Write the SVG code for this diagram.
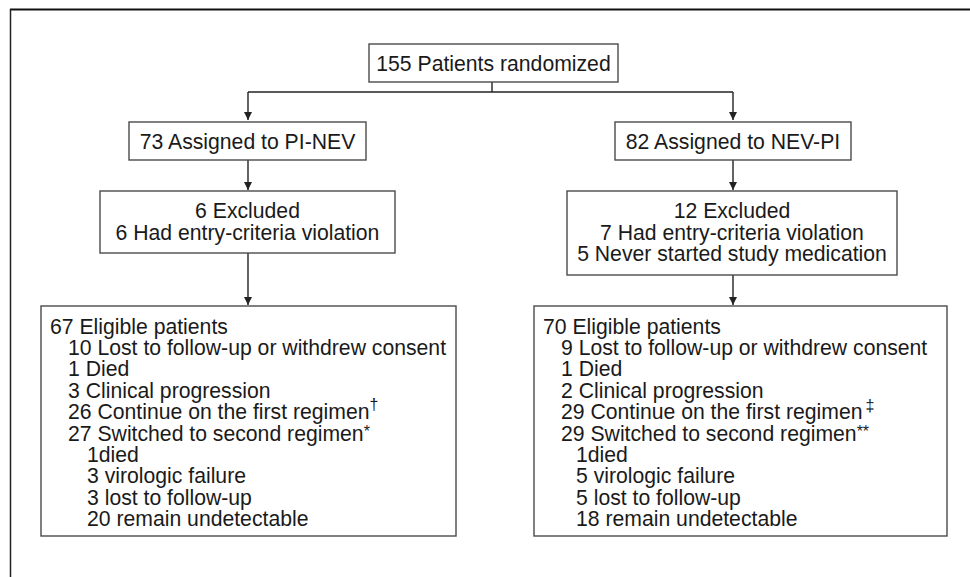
<svg xmlns="http://www.w3.org/2000/svg" width="970" height="577" viewBox="0 0 970 577">
<style>
.box{fill:#fff;stroke:#4a4a4a;stroke-width:1.4}
.t{font-family:"Liberation Sans",Arial,sans-serif;font-size:21.2px;fill:#1a1a1a}
.c{text-anchor:middle}
.ln{stroke:#222;stroke-width:1.4;fill:none}
.sup{font-size:16px;fill:#1a1a1a}
</style>
<defs>
<marker id="ah" viewBox="0 0 10 10" refX="10" refY="5" markerWidth="8" markerHeight="8" markerUnits="userSpaceOnUse" orient="auto">
<path d="M0,0 L10,5 L0,10 Z" fill="#222"/>
</marker>
</defs>
<rect width="970" height="577" fill="#fff"/>
<g id="frame">
<line x1="10" y1="9.5" x2="970" y2="9.5" stroke="#111" stroke-width="2"/>
<line x1="10.5" y1="9" x2="10.5" y2="577" stroke="#222" stroke-width="1.5"/>
</g>
<g id="connectors">
<polyline class="ln" points="492,82 492,92"/>
<polyline class="ln" points="248,92 733,92"/>
<line class="ln" x1="248" y1="92" x2="248" y2="120" marker-end="url(#ah)"/>
<line class="ln" x1="733" y1="92" x2="733" y2="120" marker-end="url(#ah)"/>
<line class="ln" x1="248" y1="160" x2="248" y2="190" marker-end="url(#ah)"/>
<line class="ln" x1="733" y1="160" x2="733" y2="190" marker-end="url(#ah)"/>
<line class="ln" x1="248" y1="253" x2="248" y2="305" marker-end="url(#ah)"/>
<line class="ln" x1="733" y1="275" x2="733" y2="305" marker-end="url(#ah)"/>
</g>
<g id="randomized">
<rect class="box" x="369" y="44" width="249" height="38"/>
<text class="t c" x="493.5" y="71">155 Patients randomized</text>
</g>
<g id="pinev">
<rect class="box" x="129" y="122" width="237" height="38"/>
<text class="t c" x="247.5" y="149">73 Assigned to PI-NEV</text>
</g>
<g id="nevpi">
<rect class="box" x="615" y="122" width="236" height="38"/>
<text class="t c" x="733" y="149">82 Assigned to NEV-PI</text>
</g>
<g id="excl-left">
<rect class="box" x="100" y="191" width="295" height="62"/>
<text class="t c" x="247.5" y="218">6 Excluded</text>
<text class="t c" x="247.5" y="239.5">6 Had entry-criteria violation</text>
</g>
<g id="excl-right">
<rect class="box" x="567" y="191" width="330" height="84"/>
<text class="t c" x="732" y="218">12 Excluded</text>
<text class="t c" x="732" y="239.5">7 Had entry-criteria violation</text>
<text class="t c" x="732" y="261">5 Never started study medication</text>
</g>
<g id="elig-left">
<rect class="box" x="41" y="306" width="415" height="230"/>
<text class="t" x="50" y="333.5">67 Eligible patients</text>
<text class="t" x="68" y="354.9">10 Lost to follow-up or withdrew consent</text>
<text class="t" x="68" y="376.3">1 Died</text>
<text class="t" x="68" y="397.7">3 Clinical progression</text>
<text class="t" x="68" y="419.1">26 Continue on the first regimen<tspan class="sup" dy="-9">†</tspan></text>
<text class="t" x="68" y="440.5">27 Switched to second regimen<tspan class="sup" dy="-4">*</tspan></text>
<text class="t" x="87" y="461.9">1died</text>
<text class="t" x="87" y="483.3">3 virologic failure</text>
<text class="t" x="87" y="504.7">3 lost to follow-up</text>
<text class="t" x="87" y="526.1">20 remain undetectable</text>
</g>
<g id="elig-right">
<rect class="box" x="534" y="306" width="413" height="230"/>
<text class="t" x="543" y="333.5">70 Eligible patients</text>
<text class="t" x="561" y="354.9">9 Lost to follow-up or withdrew consent</text>
<text class="t" x="561" y="376.3">1 Died</text>
<text class="t" x="561" y="397.7">2 Clinical progression</text>
<text class="t" x="561" y="419.1">29 Continue on the first regimen<tspan class="sup" dx="3" dy="-8">‡</tspan></text>
<text class="t" x="561" y="440.5">29 Switched to second regimen<tspan class="sup" dy="-4">**</tspan></text>
<text class="t" x="576" y="461.9">1died</text>
<text class="t" x="576" y="483.3">5 virologic failure</text>
<text class="t" x="576" y="504.7">5 lost to follow-up</text>
<text class="t" x="576" y="526.1">18 remain undetectable</text>
</g>
</svg>
